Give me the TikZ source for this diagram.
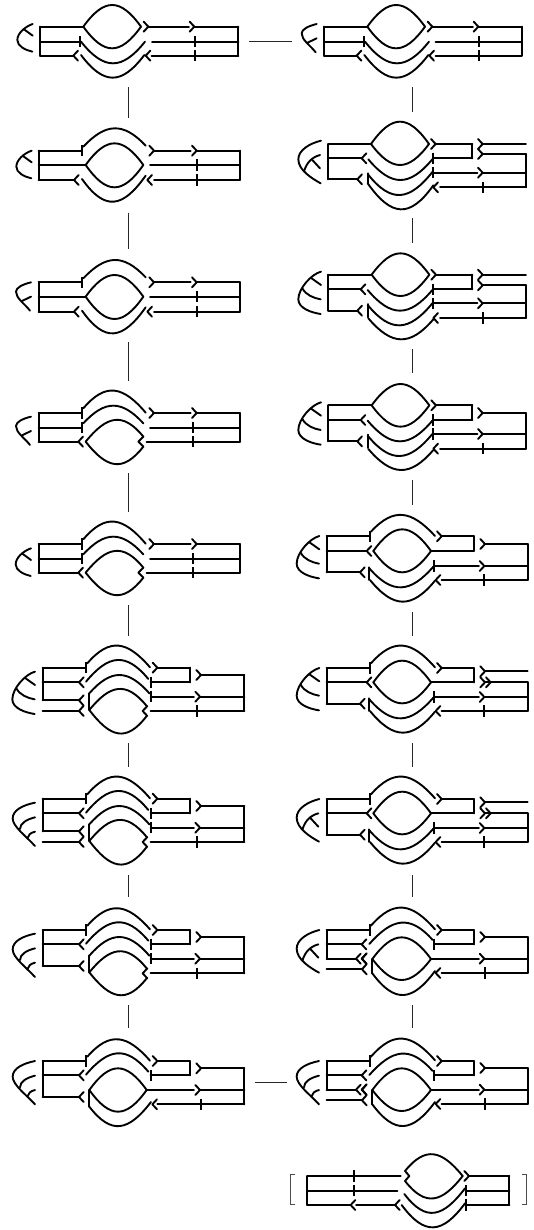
\documentclass[tikz,border=0pt]{standalone}
\tikzset{
  strand/.style={line width=1.42pt,black,line cap=round,line join=round},
  conn/.style={line width=.6pt,black!85},
  brk/.style={line width=.6pt,black!70},
}
% primitives, all in units of one third of a reference pixel
\newcommand{\kH}[3]{\draw[strand] (#1,#3)--(#2,#3);}
\newcommand{\kV}[3]{\draw[strand] (#1,#2)--(#1,#3);}
\newcommand{\kR}[2]{\draw[strand] ({#1-14},{#2-15})--(#1,#2)--({#1-14},{#2+15});}
\newcommand{\kL}[2]{\draw[strand] ({#1+14},{#2-15})--(#1,#2)--({#1+14},{#2+15});}
\newcommand{\kT}[2]{\draw[strand,line width=1.5pt,line cap=butt] (#1,{#2-17})--(#1,{#2+17});}
\newcommand{\kC}[5]{\draw[strand] (#1,#2) .. controls ({#1+.36*(#3-#1)},{#2+4/3*(#5-(#2+#4)/2)}) and ({#3-.36*(#3-#1)},{#4+4/3*(#5-(#2+#4)/2)}) .. (#3,#4);}
\newcommand{\kConn}[5]{\coordinate (#1a) at (#2,#3);\coordinate (#1b) at (#4,#5);\draw[conn] (#1a)--(#1b);}
% trees
\newcommand{\treeA}[2]{\begin{scope}[shift={(#1,#2)}]
  \draw[strand] (98,72) .. controls (75,80) and (52,100) .. (52,120) .. controls (52,138) and (75,150) .. (97,155);
  \draw[strand] (98,107)--(72,88);\end{scope}}
\newcommand{\treeB}[2]{\begin{scope}[shift={(#1,#2)}]
  \draw[strand] (140,72) .. controls (115,78) and (95,88) .. (95,100) .. controls (95,120) and (120,135) .. (137,157);
  \draw[strand] (140,115)--(113,128);\end{scope}}
\newcommand{\treeC}[2]{\begin{scope}[shift={(#1,#2)}]
  \draw[strand] (153,95) .. controls (125,102) and (85,145) .. (85,178) .. controls (85,205) and (125,218) .. (152,222);
  \draw[strand] (153,135)--(122,113);
  \draw[strand] (152,178) .. controls (130,174) and (108,165) .. (97,145);\end{scope}}
\newcommand{\treeD}[2]{\begin{scope}[shift={(#1,#2)}]
  \draw[strand] (105,518) .. controls (70,525) and (38,540) .. (38,565) .. controls (38,590) and (80,620) .. (105,648);
  \draw[strand] (105,562) .. controls (80,568) and (60,580) .. (60,597);
  \draw[strand] (105,605) .. controls (92,608) and (84,615) .. (82,625);\end{scope}}
\newcommand{\treeE}[2]{\begin{scope}[shift={(#1,#2)}]
  \draw[strand] (153,422) .. controls (120,430) and (85,450) .. (85,478) .. controls (85,510) and (125,535) .. (152,550);
  \draw[strand] (150,465) .. controls (125,472) and (110,488) .. (102,514);
  \draw[strand] (150,505)--(127,480);\end{scope}}
% shared bodies
\newcommand{\bodyLtwo}{
  \kH{116}{246}{452}\kT{246}{452}\kC{250}{440}{437}{437}{385}\kR{462}{452}\kH{462}{572}{452}\kR{590}{452}\kH{590}{720}{452}
  \kH{116}{257}{495}\kC{257}{495}{430}{495}{430}\kC{257}{495}{430}{495}{562}\kH{450}{720}{495}\kT{591}{495}\kT{591}{540}
  \kH{116}{222}{540}\kL{222}{540}\kC{246}{537}{437}{527}{605}\kL{442}{540}\kH{462}{720}{540}
  \kV{116}{452}{540}\kV{720}{452}{540}}
\newcommand{\bodyLfour}{
  \kH{116}{246}{519}\kT{246}{519}\kC{250}{505}{437}{518}{452}\kR{462}{519}\kH{462}{572}{519}\kR{590}{519}\kH{590}{720}{519}
  \kH{116}{246}{563}\kT{246}{563}\kC{250}{550}{430}{550}{497}\kH{450}{720}{563}\kT{580}{563}\kT{580}{605}
  \kH{116}{235}{605}\kL{235}{605}\kC{257}{605}{430}{590}{540}\kC{257}{605}{430}{620}{672}
  \draw[strand] (430,590)--(415,605)--(430,620);\kH{440}{720}{605}
  \kV{116}{519}{605}\kV{720}{519}{605}}
\newcommand{\bodyLsix}{
  \kH{128}{258}{113}\kT{258}{113}\kC{262}{100}{450}{112}{47}\kR{472}{113}\kH{472}{570}{113}\kV{570}{113}{157}
  \kH{452}{570}{157}\kT{452}{157}
  \kH{128}{237}{157}\kL{237}{157}\kC{258}{155}{445}{147}{90}
  \kH{128}{237}{211}\draw[strand] (251,196)--(237,211)--(251,227)--(237,243)--(251,258);\kH{128}{237}{243}
  \kV{268}{190}{240}\kC{268}{190}{448}{190}{135}\kC{268}{240}{440}{228}{177}\kC{268}{240}{440}{258}{310}
  \draw[strand] (442,228)--(428,243)--(442,258);\kH{452}{733}{243}\kT{592}{243}
  \kT{452}{200}\kH{452}{582}{200}\kR{600}{200}\kH{600}{733}{200}
  \kR{603}{135}\kH{603}{733}{135}\kV{733}{135}{243}
  \kV{128}{113}{211}}
\newcommand{\bodyRthree}{
  \kV{175}{104}{212}
  \kH{175}{305}{104}\kC{305}{104}{478}{104}{40}\kC{305}{104}{478}{104}{168}\kR{498}{104}\kH{498}{607}{104}\kV{607}{104}{148}\kH{490}{607}{148}\kT{490}{148}
  \kH{175}{272}{148}\kL{272}{148}\kC{293}{150}{487}{150}{212}
  \kV{293}{192}{232}\kC{293}{195}{487}{190}{256}\kC{295}{235}{490}{238}{298}
  \kT{490}{190}\kH{490}{622}{190}\kR{638}{190}\kH{638}{768}{190}
  \kL{490}{234}\kH{510}{768}{234}\kT{640}{234}
  \kH{175}{262}{212}\kL{262}{212}
  \treeC{0}{0}}
\newcommand{\bodyRsix}{
  \kV{170}{114}{221}
  \kH{170}{300}{114}\kT{300}{114}\kC{303}{100}{495}{112}{47}\kR{515}{114}\kH{515}{612}{114}\kV{612}{114}{157}\kH{483}{612}{157}
  \kH{170}{290}{157}\kL{290}{157}\kC{310}{157}{483}{157}{92}\kC{310}{157}{483}{157}{220}
  \kR{645}{124}\kH{645}{773}{124}\kR{645}{157}\kR{662}{157}\kH{645}{773}{157}\kV{773}{157}{243}
  \kT{493}{201}\kH{493}{627}{201}\kR{643}{201}\kH{643}{773}{201}
  \kL{497}{243}\kH{515}{773}{243}\kT{643}{243}
  \kH{170}{270}{221}\kL{270}{221}
  \kV{298}{205}{243}\kC{298}{208}{490}{203}{265}\kC{300}{243}{495}{245}{308}}
\newcommand{\bodyRtop}{ % shared by the last two full right-hand diagrams
  \kH{170}{300}{120}\kT{300}{120}\kC{303}{107}{495}{118}{53}\kR{515}{120}\kH{515}{612}{120}\kV{612}{120}{163}\kH{493}{612}{163}\kT{493}{163}
  \kH{170}{275}{163}\kL{275}{163}\kC{298}{162}{488}{150}{98}
  \kH{170}{258}{206}\kL{258}{206}\kL{275}{206}
  \draw[strand] (290,190)--(276,206)--(290,222)--(276,238)--(290,253);\kH{170}{276}{238}
  \kV{307}{207}{250}\kC{307}{207}{483}{207}{142}\kC{307}{207}{483}{207}{270}\kC{307}{250}{495}{243}{315}
  \kL{497}{249}\kH{515}{773}{249}\kT{645}{249}
  \kH{483}{627}{206}\kR{643}{206}\kH{643}{773}{206}
  \kR{645}{141}\kH{645}{773}{141}\kV{773}{141}{249}
  \kV{170}{120}{206}}
\begin{document}
\begin{tikzpicture}[x=.25pt,y=-.25pt]
\useasboundingbox (0,0) rectangle (1599,3690);
\fill[white] (0,0) rectangle (1599,3690);

% ---- top row
\begin{scope}
  % L1
  \kH{120}{250}{80}\kC{250}{80}{423}{80}{15}\kC{250}{80}{423}{80}{145}\kR{445}{80}\kH{445}{567}{80}\kR{583}{80}\kH{583}{715}{80}
  \kH{120}{240}{125}\kT{240}{125}\kC{243}{125}{435}{125}{190}\kH{456}{715}{125}\kT{585}{125}\kT{585}{167}
  \kH{120}{220}{167}\kL{220}{167}\kC{243}{165}{433}{165}{233}\kL{437}{167}\kH{455}{715}{167}
  \kV{120}{80}{167}\kV{715}{80}{167}
  \treeA{0}{0}
  % L2
  \bodyLtwo
  \treeA{-3}{380}
\end{scope}

\begin{scope}[shift={(810,0)}]
  % R1
  \kH{162}{292}{80}\kC{292}{80}{465}{80}{15}\kC{292}{80}{465}{80}{145}\kR{487}{80}\kH{487}{609}{80}\kR{625}{80}\kH{625}{755}{80}
  \kH{162}{282}{125}\kT{282}{125}\kC{285}{125}{477}{125}{190}\kH{497}{755}{125}\kT{627}{125}\kT{627}{167}
  \kH{162}{260}{167}\kL{260}{167}\kC{283}{165}{475}{165}{233}\kL{478}{167}\kH{497}{755}{167}
  \kV{162}{80}{167}\kV{755}{80}{167}
  \treeB{0}{0}
  % R2
  \kV{175}{432}{538}
  \kH{175}{303}{432}\kC{303}{432}{477}{432}{365}\kC{303}{432}{477}{432}{495}\kR{497}{432}\kH{497}{607}{432}\kV{607}{432}{475}\kH{490}{607}{475}\kT{490}{475}
  \kR{638}{432}\kH{638}{768}{432}\kR{638}{462}\kH{638}{768}{462}\kV{768}{462}{562}
  \kH{175}{275}{475}\kL{275}{475}\kC{295}{478}{487}{478}{540}
  \kV{293}{520}{550}\kC{293}{522}{488}{515}{585}\kC{293}{550}{490}{556}{628}
  \kT{490}{518}\kH{490}{622}{518}\kR{638}{518}\kH{638}{768}{518}
  \kL{490}{562}\kH{510}{768}{562}\kT{640}{562}
  \kH{175}{262}{538}\kL{262}{538}
  \treeE{0}{0}
\end{scope}

% ---- window y=240
\begin{scope}[shift={(0,720)}]
  % L3
  \begin{scope}[shift={(0,-325)}]\bodyLtwo\end{scope}
  \treeB{-47}{55}
  % L4
  \bodyLfour
  \treeB{-47}{458}
  % L5
  \begin{scope}[shift={(0,393)}]\bodyLfour\end{scope}
  \treeA{-5}{853}
\end{scope}

\begin{scope}[shift={(810,720)}]
  % R3
  \bodyRthree
  \kR{638}{104}\kH{638}{768}{104}\kR{638}{136}\kH{638}{768}{136}\kV{768}{136}{234}
  % R4
  \begin{scope}[shift={(0,392)}]\bodyRthree
    \kR{638}{127}\kH{638}{768}{127}\kV{768}{127}{234}\end{scope}
  % R5
  \kV{170}{889}{997}
  \kH{170}{300}{889}\kT{300}{889}\kC{303}{875}{495}{888}{825}\kR{515}{889}\kH{515}{612}{889}\kV{612}{889}{933}\kH{483}{612}{933}
  \kH{170}{290}{933}\kL{290}{933}\kC{310}{933}{483}{933}{868}\kC{310}{933}{483}{933}{997}
  \kR{645}{912}\kH{645}{773}{912}\kV{773}{912}{1020}
  \kT{493}{978}\kH{493}{627}{978}\kR{643}{978}\kH{643}{773}{978}
  \kH{170}{270}{997}\kL{270}{997}
  \kV{298}{982}{1020}\kC{298}{985}{490}{980}{1042}\kC{300}{1020}{495}{1022}{1085}
  \kL{497}{1020}\kH{515}{773}{1020}\kT{643}{1020}
  \treeC{-5}{793}
\end{scope}

% ---- window y=630
\begin{scope}[shift={(0,1890)}]
  % L6
  \bodyLsix
  \treeC{-48}{30}
  % L7
  \begin{scope}[shift={(0,393)}]\bodyLsix\end{scope}
  \treeD{0}{0}
\end{scope}

\begin{scope}[shift={(810,1890)}]
  % R6
  \bodyRsix
  \treeC{-5}{19}
  % R7
  \begin{scope}[shift={(0,393)}]\bodyRsix\end{scope}
  \treeE{-5}{85}
\end{scope}

% ---- window y=890
\begin{scope}[shift={(0,2670)}]
  % L8
  \kV{128}{120}{228}
  \kH{128}{258}{120}\kT{258}{120}\kC{262}{107}{450}{118}{55}\kR{472}{120}\kH{472}{570}{120}\kV{570}{120}{163}\kH{452}{570}{163}\kT{452}{163}
  \kH{128}{237}{163}\kL{237}{163}\kC{258}{161}{445}{152}{97}
  \kH{128}{237}{228}\kL{237}{228}
  \kV{268}{197}{247}\kC{268}{197}{448}{197}{141}\kC{268}{247}{440}{235}{184}\kC{268}{247}{440}{265}{315}
  \draw[strand] (442,235)--(428,250)--(442,265);\kH{452}{733}{250}\kT{592}{250}
  \kT{452}{206}\kH{452}{582}{206}\kR{600}{206}\kH{600}{733}{206}
  \kR{603}{141}\kH{603}{733}{141}\kV{733}{141}{250}
  \treeD{0}{-387}
  % L9
  \kV{128}{513}{621}
  \kH{128}{258}{513}\kT{258}{513}\kC{262}{500}{450}{512}{448}\kR{472}{513}\kH{472}{570}{513}\kV{570}{513}{556}\kH{452}{570}{556}\kT{452}{556}
  \kH{128}{237}{556}\kL{237}{556}\kC{258}{554}{445}{545}{490}
  \kH{128}{237}{621}\kL{237}{621}
  \kV{268}{600}{650}\kC{268}{600}{440}{600}{535}\kC{268}{600}{440}{600}{665}\kC{268}{650}{453}{636}{708}
  \kL{457}{643}\kH{472}{733}{643}\kT{603}{643}
  \kH{440}{582}{600}\kR{600}{600}\kH{600}{733}{600}
  \kR{603}{535}\kH{603}{733}{535}\kV{733}{535}{643}
  \treeD{0}{-5}
\end{scope}

\begin{scope}[shift={(810,2670)}]
  % R8
  \bodyRtop
  \treeE{-5}{-302}
  % R9
  \begin{scope}[shift={(0,393)}]\bodyRtop\end{scope}
  \treeD{42}{-5}
  % last diagram
  \kV{112}{858}{945}\kV{718}{858}{945}
  \kH{112}{392}{858}\kT{253}{858}
  \draw[strand] (405,843)--(418,858)--(405,873);
  \kC{405}{843}{578}{858}{793}\kC{405}{873}{578}{858}{925}
  \kR{597}{858}\kH{597}{718}{858}
  \kH{112}{382}{902}\kT{253}{902}\kC{403}{912}{585}{895}{968}\kT{587}{902}\kH{587}{718}{902}
  \kH{112}{242}{945}\kL{242}{945}\kH{258}{375}{945}\kL{375}{945}\kC{395}{945}{585}{940}{1012}\kT{587}{945}\kH{587}{718}{945}
  \draw[brk] (75,853)--(62,853)--(62,943)--(75,943);
  \draw[brk] (757,853)--(770,853)--(770,943)--(757,943);
\end{scope}

% ---- connectors between diagrams
\kConn{h1}{748}{123}{877}{123}
\kConn{h2}{764}{3247}{860}{3247}
\kConn{a1}{386}{262}{386}{355}
\kConn{a2}{386}{638}{386}{748}
\kConn{a3}{386}{1027}{386}{1143}
\kConn{a4}{386}{1420}{386}{1536}
\kConn{a5}{386}{1816}{386}{1908}
\kConn{a6}{386}{2229}{386}{2301}
\kConn{a7}{386}{2625}{386}{2691}
\kConn{a8}{386}{3015}{386}{3085}
\kConn{b1}{1238}{262}{1238}{335}
\kConn{b2}{1238}{654}{1238}{729}
\kConn{b3}{1238}{1047}{1238}{1120}
\kConn{b4}{1238}{1440}{1238}{1515}
\kConn{b5}{1238}{1836}{1238}{1908}
\kConn{b6}{1238}{2229}{1238}{2301}
\kConn{b7}{1238}{2625}{1238}{2691}
\kConn{b8}{1238}{3015}{1238}{3085}
\end{tikzpicture}
\end{document}
